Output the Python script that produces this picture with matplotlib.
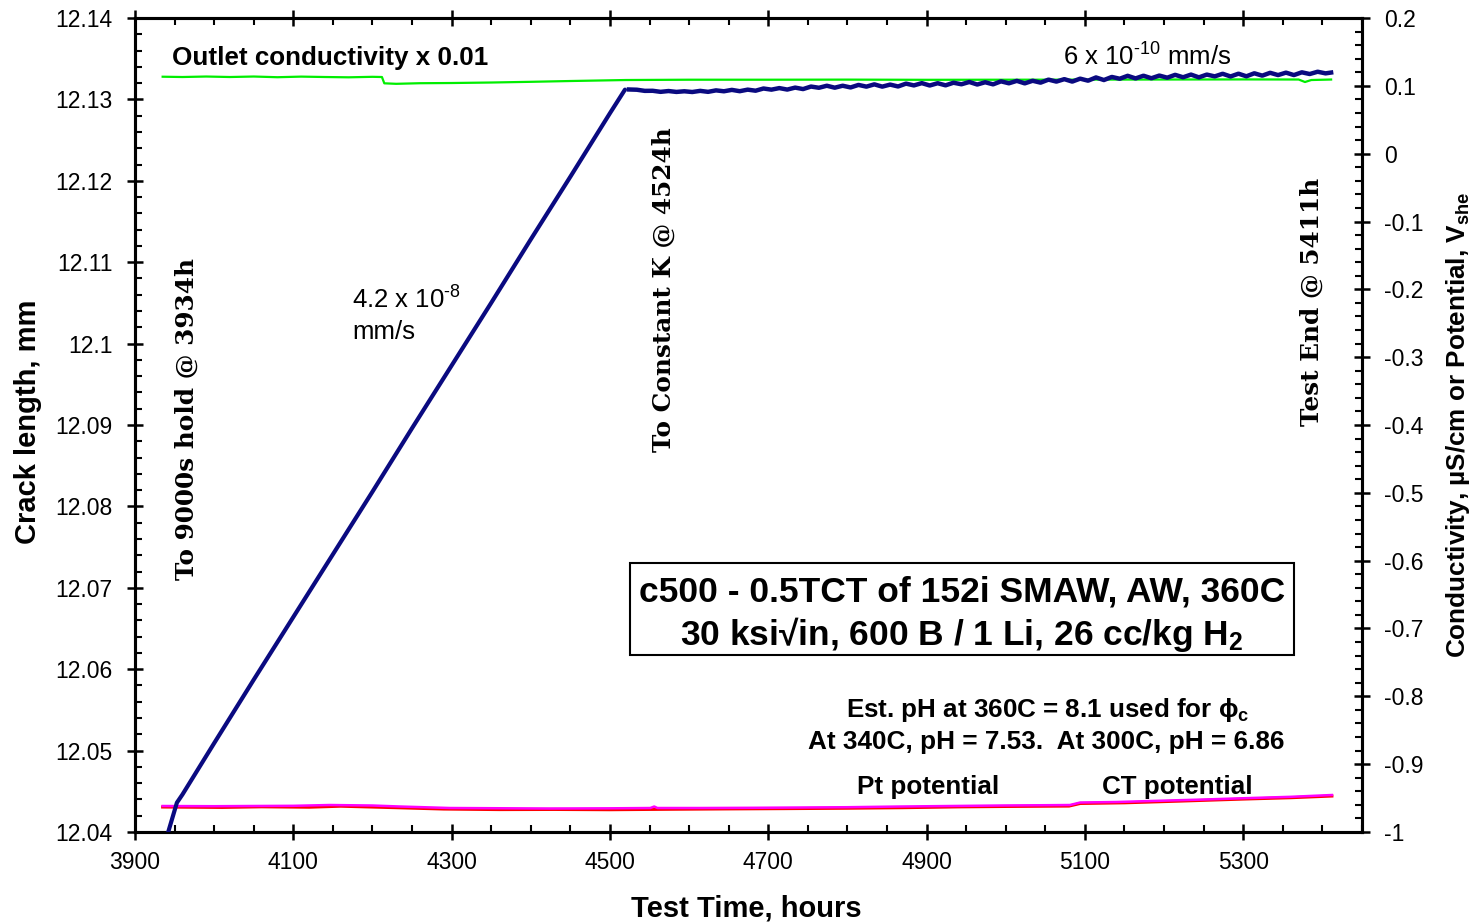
import matplotlib
matplotlib.use("Agg")
import matplotlib.pyplot as plt
from matplotlib.ticker import MultipleLocator, FuncFormatter
from matplotlib.patches import Rectangle

plt.rcParams['font.family'] = ['Liberation Sans', 'DejaVu Sans']
plt.rcParams['axes.unicode_minus'] = False
plt.rcParams['mathtext.fontset'] = 'custom'
plt.rcParams['mathtext.rm'] = 'Liberation Sans'
plt.rcParams['mathtext.bf'] = 'Liberation Sans:bold'
plt.rcParams['mathtext.it'] = 'Liberation Sans:italic'

# crack length, ramp part (mm)
ramp_t = [3939, 3953, 3960, 4000, 4050, 4100, 4150, 4200, 4250, 4300, 4350, 4400, 4450, 4500, 4519]
ramp_c = [12.0390, 12.0436, 12.0446, 12.0509, 12.0587, 12.0664, 12.0741, 12.0818,
          12.0896, 12.0973, 12.1050, 12.1128, 12.1205, 12.1283, 12.1312]

# crack length, constant K part (mm)
hold_t = [4524, 4534, 4544, 4554, 4564, 4574, 4584, 4594, 4604, 4614,
          4624, 4634, 4644, 4654, 4664, 4674, 4684, 4694, 4704, 4714,
          4724, 4734, 4744, 4754, 4764, 4774, 4784, 4794, 4804, 4814,
          4824, 4834, 4844, 4854, 4864, 4874, 4884, 4894, 4904, 4914,
          4924, 4934, 4944, 4954, 4964, 4974, 4984, 4994, 5004, 5014,
          5024, 5034, 5044, 5054, 5064, 5074, 5084, 5094, 5104, 5114,
          5124, 5134, 5144, 5154, 5164, 5174, 5184, 5194, 5204, 5214,
          5224, 5234, 5244, 5254, 5264, 5274, 5284, 5294, 5304, 5314,
          5324, 5334, 5344, 5354, 5364, 5374, 5384, 5394, 5404, 5411]
hold_c = [12.13122, 12.13119, 12.13105, 12.13106, 12.13093, 12.13103, 12.13092, 12.13100, 12.13091, 12.13105,
          12.13093, 12.13111, 12.13100, 12.13117, 12.13101, 12.13120, 12.13107, 12.13134, 12.13120, 12.13139,
          12.13121, 12.13145, 12.13127, 12.13158, 12.13143, 12.13168, 12.13144, 12.13168, 12.13147, 12.13178,
          12.13157, 12.13185, 12.13157, 12.13182, 12.13159, 12.13194, 12.13172, 12.13200, 12.13171, 12.13199,
          12.13173, 12.13205, 12.13186, 12.13214, 12.13183, 12.13211, 12.13185, 12.13222, 12.13198, 12.13228,
          12.13197, 12.13229, 12.13206, 12.13243, 12.13219, 12.13249, 12.13219, 12.13255, 12.13230, 12.13270,
          12.13238, 12.13276, 12.13254, 12.13290, 12.13258, 12.13291, 12.13260, 12.13293, 12.13267, 12.13302,
          12.13272, 12.13305, 12.13271, 12.13305, 12.13283, 12.13315, 12.13282, 12.13316, 12.13284, 12.13321,
          12.13292, 12.13327, 12.13299, 12.13329, 12.13299, 12.13333, 12.13312, 12.13340, 12.13320, 12.13330]

# outlet conductivity x 0.01
cond_t = [3935, 3960, 3990, 4020, 4050, 4080, 4110, 4140, 4170, 4200, 4212, 4215, 4230,
          4260, 4300, 4350, 4400, 4450, 4520, 4600, 4700, 4800, 4900, 5000, 5100, 5200,
          5300, 5370, 5378, 5386, 5411]
cond_v = [0.11346, 0.11302, 0.11375, 0.11302, 0.11375, 0.11272, 0.11361, 0.11302, 0.11258,
          0.11331, 0.11302, 0.10373, 0.10299, 0.10388, 0.10417, 0.10491, 0.10594, 0.10712,
          0.10859, 0.10904, 0.10904, 0.10918, 0.10889, 0.10904, 0.10918, 0.10933, 0.10948,
          0.10933, 0.10565, 0.10859, 0.10933]

# Pt and CT potentials (V_she)
pt_t = [3935, 4000, 4045, 4100, 4146, 4200, 4235, 4298, 4350, 4424, 4500, 4551, 4556,
        4560, 4614, 4680, 4740, 4800, 4867, 4930, 4993, 5050, 5081, 5094, 5140, 5183,
        5250, 5309, 5360, 5412]
pt_v = [-0.96173, -0.96202, -0.96173, -0.96144, -0.96026, -0.96099, -0.96247, -0.96468,
        -0.96497, -0.96541, -0.96512, -0.96468, -0.96247, -0.96468, -0.96468, -0.96438,
        -0.96394, -0.96350, -0.96247, -0.96173, -0.96099, -0.96055, -0.96026, -0.95657,
        -0.95583, -0.95436, -0.95215, -0.94994, -0.94817, -0.94552]
ct_t = [3935, 4010, 4060, 4120, 4160, 4230, 4290, 4360, 4430, 4500, 4580, 4650, 4720,
        4800, 4870, 4940, 5000, 5080, 5094, 5150, 5220, 5300, 5360, 5412]
ct_v = [-0.96320, -0.96380, -0.96290, -0.96350, -0.96200, -0.96420, -0.96620, -0.96700,
        -0.96680, -0.96720, -0.96650, -0.96600, -0.96560, -0.96500, -0.96420, -0.96300,
        -0.96240, -0.96180, -0.95800, -0.95700, -0.95450, -0.95150, -0.94950, -0.94700]

fig = plt.figure(figsize=(14.78, 9.24), dpi=100)
ax = fig.add_axes([0.0913, 0.0996, 0.8302, 0.8809])
ax2 = ax.twinx()

ax.plot(ramp_t, ramp_c, color="#0a0a80", lw=3.0, solid_capstyle="round", zorder=3)
ax.plot(hold_t, hold_c, color="#0a0a80", lw=3.2, solid_joinstyle="round", zorder=3)

ax2.plot(cond_t, cond_v, color="#00ee00", lw=1.6, zorder=2)
ax2.plot(ct_t, ct_v, color="#ff0000", lw=2.2, zorder=2)
ax2.plot(pt_t, pt_v, color="#ff00ff", lw=1.8, zorder=2)

ax.set_xlim(3900, 5450)
ax.set_ylim(12.04, 12.14)
ax2.set_ylim(-1.0, 0.2)
ax.set_zorder(ax2.get_zorder() + 1)
ax.patch.set_visible(False)

ax.xaxis.set_major_locator(MultipleLocator(200, offset=100))
ax.xaxis.set_minor_locator(MultipleLocator(50))
ax.yaxis.set_major_locator(MultipleLocator(0.01))
ax.yaxis.set_minor_locator(MultipleLocator(0.002))
ax2.yaxis.set_major_locator(MultipleLocator(0.1))
ax2.yaxis.set_minor_locator(MultipleLocator(0.02))

ax.xaxis.set_major_formatter(FuncFormatter(lambda v, p: "%d" % round(v) if v <= 5300 else ""))
ax.yaxis.set_major_formatter(FuncFormatter(lambda v, p: "%g" % round(v, 3)))
ax2.yaxis.set_major_formatter(FuncFormatter(lambda v, p: "%g" % round(v, 2)))

for a in (ax, ax2):
    for s in a.spines.values():
        s.set_linewidth(2.2)
ax.tick_params(which="major", direction="inout", length=12, width=1.8, labelsize=16.5, pad=10)
ax.tick_params(which="minor", direction="in", length=5, width=1.5)
ax.tick_params(axis="x", which="both", top=True)
ax.tick_params(axis="x", which="major", pad=8)
ax2.tick_params(which="major", direction="inout", length=12, width=1.8, labelsize=16.5, pad=10)
ax2.tick_params(which="minor", direction="in", length=5, width=1.5)

# axis titles
fig.text(0.5047, 0.0173, "Test Time, hours", ha="center", va="center", fontsize=21, fontweight="bold")
fig.text(0.0189, 0.5433, "Crack length, mm", ha="center", va="center", rotation=90,
         fontsize=21, fontweight="bold")
fig.text(0.9865, 0.540, "Conductivity, µS/cm or Potential, V$_{\\mathbf{she}}$", ha="center",
         va="center", rotation=90, fontsize=18.8, fontweight="bold")

# annotations
ax.text(0.0302, 0.9509, "Outlet conductivity x 0.01", transform=ax.transAxes, ha="left",
        va="center", fontsize=18.7, fontweight="bold")
ax.text(0.7563, 0.941, "6 x 10$^{\\mathregular{\u2010}\\mathregular{10}}$ mm/s", transform=ax.transAxes,
        ha="left", va="baseline", fontsize=18.5)
ax.text(0.1769, 0.6425, "4.2 x 10$^{\\mathregular{\u2010}\\mathregular{8}}$", transform=ax.transAxes,
        ha="left", va="baseline", fontsize=18.5)
ax.text(0.1769, 0.6057, "mm/s", transform=ax.transAxes, ha="left", va="baseline", fontsize=18.5)

serif = ["DejaVu Serif"]
ax.text(0.0424, 0.507, "To 9000s hold @ 3934h", transform=ax.transAxes, rotation=90,
        ha="center", va="center", fontsize=17.8, fontweight="bold", family=serif)
ax.text(0.4311, 0.6658, "To Constant K @ 4524h", transform=ax.transAxes, rotation=90,
        ha="center", va="center", fontsize=17.8, fontweight="bold", family=serif)
ax.text(0.9593, 0.6517, "Test End @ 5411h", transform=ax.transAxes, rotation=90,
        ha="center", va="center", fontsize=17.8, fontweight="bold", family=serif)

ax.add_patch(Rectangle((0.4034, 0.2174), 0.5412, 0.1131, transform=ax.transAxes,
                       fill=False, edgecolor="black", lw=1.5, zorder=4))
ax.text(0.674, 0.2948, "c500 - 0.5TCT of 152i SMAW, AW, 360C", transform=ax.transAxes,
        ha="center", va="center", fontsize=25.5, fontweight="bold")
ax.text(0.674, 0.2420, "30 ksi√in, 600 B / 1 Li, 26 cc/kg H$_{\\mathbf{2}}$", transform=ax.transAxes,
        ha="center", va="center", fontsize=25.5, fontweight="bold")

ax.text(0.7441, 0.1499, "Est. pH at 360C = 8.1 used for \u03d5$_{\\mathbf{c}}$", transform=ax.transAxes,
        ha="center", va="center", fontsize=18.7, fontweight="bold")
ax.text(0.7424, 0.1106, "At 340C, pH = 7.53.  At 300C, pH = 6.86", transform=ax.transAxes,
        ha="center", va="center", fontsize=18.8, fontweight="bold")
ax.text(0.6463, 0.0553, "Pt potential", transform=ax.transAxes, ha="center", va="center",
        fontsize=18.7, fontweight="bold")
ax.text(0.8492, 0.0553, "CT potential", transform=ax.transAxes, ha="center", va="center",
        fontsize=18.7, fontweight="bold")

plt.savefig("out.png", dpi=100)
